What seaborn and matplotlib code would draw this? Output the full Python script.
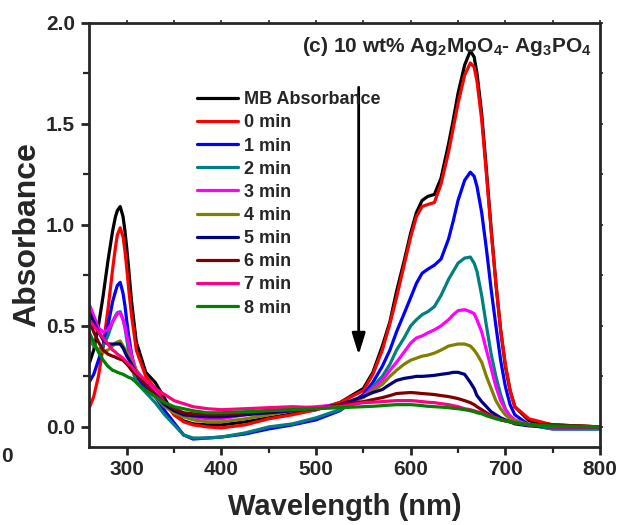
import numpy as np
import pandas as pd
import seaborn as sns
import matplotlib
matplotlib.use("Agg")
import matplotlib.pyplot as plt

# ---------------- data ----------------
wavelength = [260, 265, 270, 275, 280, 285, 288, 290, 293, 296,
              298, 300, 302, 305, 310, 320, 330, 340, 350, 360,
              370, 385, 400, 425, 450, 475, 500, 525, 550, 560,
              570, 578, 585, 593, 600, 606, 612, 618, 625, 632,
              640, 645, 650, 657, 663, 667, 670, 675, 680, 685,
              690, 695, 700, 705, 710, 725, 750, 800]

mb = [0.31, 0.38, 0.50, 0.65, 0.82, 0.97, 1.04, 1.07, 1.09, 1.04,
      0.97, 0.88, 0.78, 0.62, 0.42, 0.27, 0.22, 0.14, 0.06, 0.03,
      0.015, 0.01, 0.01, 0.025, 0.045, 0.065, 0.085, 0.12, 0.19, 0.27,
      0.40, 0.52, 0.67, 0.82, 0.96, 1.06, 1.12, 1.14, 1.15, 1.23,
      1.40, 1.52, 1.65, 1.79, 1.86, 1.83, 1.75, 1.55, 1.27, 0.98,
      0.71, 0.48, 0.30, 0.18, 0.10, 0.03, 0.01, 0.0]

t0 = [0.09, 0.15, 0.25, 0.40, 0.58, 0.78, 0.89, 0.95, 0.985, 0.94,
      0.87, 0.78, 0.68, 0.55, 0.38, 0.25, 0.19, 0.12, 0.06, 0.025,
      0.01, 0.0, -0.005, 0.01, 0.04, 0.06, 0.085, 0.12, 0.18, 0.26,
      0.38, 0.51, 0.64, 0.80, 0.94, 1.04, 1.09, 1.10, 1.11, 1.20,
      1.36, 1.48, 1.60, 1.74, 1.80, 1.78, 1.71, 1.52, 1.25, 0.97,
      0.71, 0.48, 0.31, 0.18, 0.10, 0.04, 0.01, 0.0]

t1 = [0.22, 0.26, 0.33, 0.40, 0.50, 0.62, 0.67, 0.70, 0.715, 0.66,
      0.60, 0.52, 0.45, 0.36, 0.25, 0.19, 0.15, 0.08, 0.02, -0.04,
      -0.06, -0.055, -0.05, -0.035, -0.01, 0.01, 0.035, 0.08, 0.16, 0.22,
      0.30, 0.38, 0.47, 0.56, 0.64, 0.71, 0.76, 0.78, 0.80, 0.83,
      0.93, 1.02, 1.12, 1.22, 1.26, 1.24, 1.19, 1.06, 0.88, 0.68,
      0.50, 0.33, 0.20, 0.11, 0.06, 0.01, -0.01, -0.01]

t2 = [0.44, 0.40, 0.38, 0.40, 0.45, 0.52, 0.55, 0.565, 0.57, 0.53,
      0.49, 0.43, 0.37, 0.30, 0.22, 0.17, 0.12, 0.06, 0.01, -0.04,
      -0.055, -0.055, -0.05, -0.03, 0.0, 0.015, 0.045, 0.085, 0.15, 0.20,
      0.25, 0.31, 0.38, 0.44, 0.50, 0.53, 0.555, 0.57, 0.595, 0.65,
      0.73, 0.77, 0.81, 0.835, 0.84, 0.81, 0.77, 0.65, 0.50, 0.36,
      0.25, 0.16, 0.09, 0.05, 0.03, 0.01, -0.01, -0.01]

t3 = [0.61, 0.55, 0.49, 0.47, 0.48, 0.52, 0.545, 0.56, 0.565, 0.53,
      0.50, 0.45, 0.41, 0.35, 0.28, 0.22, 0.17, 0.12, 0.08, 0.06,
      0.05, 0.04, 0.04, 0.06, 0.08, 0.09, 0.10, 0.11, 0.15, 0.19,
      0.23, 0.28, 0.32, 0.37, 0.415, 0.44, 0.45, 0.465, 0.48, 0.50,
      0.53, 0.555, 0.575, 0.58, 0.57, 0.56, 0.53, 0.47, 0.38, 0.29,
      0.20, 0.13, 0.085, 0.055, 0.035, 0.01, 0.0, 0.0]

t4 = [0.45, 0.41, 0.38, 0.37, 0.38, 0.40, 0.415, 0.42, 0.425, 0.40,
      0.385, 0.37, 0.35, 0.32, 0.28, 0.21, 0.15, 0.10, 0.07, 0.05,
      0.035, 0.025, 0.025, 0.04, 0.06, 0.08, 0.09, 0.11, 0.145, 0.18,
      0.21, 0.25, 0.28, 0.31, 0.33, 0.34, 0.35, 0.355, 0.365, 0.38,
      0.40, 0.405, 0.41, 0.41, 0.40, 0.38, 0.36, 0.32, 0.25, 0.19,
      0.13, 0.09, 0.06, 0.04, 0.03, 0.01, 0.0, 0.0]

t5 = [0.57, 0.52, 0.47, 0.43, 0.41, 0.41, 0.41, 0.41, 0.41, 0.39,
      0.37, 0.35, 0.335, 0.31, 0.27, 0.21, 0.16, 0.11, 0.08, 0.06,
      0.055, 0.05, 0.05, 0.06, 0.07, 0.08, 0.09, 0.11, 0.15, 0.17,
      0.185, 0.21, 0.23, 0.24, 0.245, 0.25, 0.25, 0.252, 0.255, 0.26,
      0.265, 0.27, 0.27, 0.26, 0.22, 0.19, 0.155, 0.125, 0.10, 0.075,
      0.06, 0.045, 0.035, 0.025, 0.015, 0.005, 0.0, 0.0]

t6 = [0.53, 0.47, 0.42, 0.38, 0.36, 0.35, 0.345, 0.34, 0.335, 0.33,
      0.32, 0.31, 0.30, 0.28, 0.26, 0.21, 0.16, 0.12, 0.09, 0.07,
      0.065, 0.06, 0.06, 0.07, 0.08, 0.085, 0.09, 0.11, 0.125, 0.135,
      0.145, 0.155, 0.165, 0.168, 0.17, 0.168, 0.165, 0.163, 0.16, 0.155,
      0.15, 0.145, 0.14, 0.13, 0.12, 0.11, 0.10, 0.085, 0.07, 0.055,
      0.045, 0.035, 0.03, 0.025, 0.02, 0.01, 0.01, 0.0]

t7 = [0.53, 0.50, 0.47, 0.44, 0.41, 0.38, 0.37, 0.36, 0.35, 0.34,
      0.33, 0.32, 0.31, 0.30, 0.27, 0.23, 0.19, 0.16, 0.13, 0.115,
      0.10, 0.09, 0.085, 0.09, 0.095, 0.10, 0.095, 0.10, 0.12, 0.122,
      0.125, 0.128, 0.13, 0.13, 0.13, 0.128, 0.125, 0.122, 0.12, 0.115,
      0.11, 0.105, 0.10, 0.09, 0.085, 0.08, 0.075, 0.07, 0.06, 0.05,
      0.045, 0.035, 0.03, 0.025, 0.02, 0.01, 0.0, 0.0]

t8 = [0.47, 0.42, 0.37, 0.33, 0.30, 0.28, 0.275, 0.27, 0.265, 0.26,
      0.255, 0.25, 0.245, 0.24, 0.22, 0.18, 0.15, 0.12, 0.10, 0.09,
      0.08, 0.07, 0.07, 0.075, 0.08, 0.085, 0.09, 0.095, 0.10, 0.102,
      0.105, 0.108, 0.11, 0.11, 0.11, 0.108, 0.105, 0.102, 0.10, 0.098,
      0.095, 0.092, 0.09, 0.085, 0.08, 0.075, 0.07, 0.065, 0.055, 0.048,
      0.04, 0.035, 0.03, 0.025, 0.02, 0.01, 0.005, 0.0]

labels = ["MB Absorbance", "0 min", "1 min", "2 min", "3 min", "4 min",
          "5 min", "6 min", "7 min", "8 min"]
series = [mb, t0, t1, t2, t3, t4, t5, t6, t7, t8]
colors = ["#000000", "#FF0000", "#0000FF", "#008080", "#FF00FF",
          "#808000", "#000080", "#800000", "#FF0080", "#008000"]

x_ticks = [300, 400, 500, 600, 700, 800]
y_ticks = [0.0, 0.5, 1.0, 1.5, 2.0]

# ---------------- build table ----------------
frames = []
for lab, vals in zip(labels, series):
    frames.append(pd.DataFrame({"Wavelength": wavelength, "Absorbance": vals, "Sample": lab}))
df = pd.concat(frames, ignore_index=True)

# ---------------- style ----------------
sns.set_style("ticks")
plt.rcParams["font.family"] = ["Liberation Sans", "DejaVu Sans"]
plt.rcParams["font.weight"] = "bold"
plt.rcParams["mathtext.fontset"] = "custom"
plt.rcParams["mathtext.rm"] = "Liberation Sans:bold"
plt.rcParams["mathtext.bf"] = "Liberation Sans:bold"
plt.rcParams["mathtext.it"] = "Liberation Sans:bold"

fig = plt.figure(figsize=(6.24, 5.25), dpi=100)
ax = fig.add_axes([0.1426, 0.1495, 0.8189, 0.8075])

sns.lineplot(data=df, x="Wavelength", y="Absorbance", hue="Sample",
             hue_order=labels, palette=colors, sort=False, estimator=None,
             linewidth=2.3, ax=ax)
for ln in ax.get_lines():
    ln.set_solid_joinstyle("round")

ax.set_xlim(260, 800)
ax.set_ylim(-0.097, 2.0)
ax.set_xticks(x_ticks)
ax.set_xticklabels([str(v) for v in x_ticks])
ax.set_yticks(y_ticks)
ax.set_yticklabels([f"{v:.1f}" for v in y_ticks])
ax.xaxis.set_minor_locator(matplotlib.ticker.MultipleLocator(50))
ax.yaxis.set_minor_locator(matplotlib.ticker.MultipleLocator(0.25))

for s in ax.spines.values():
    s.set_linewidth(2.0)
    s.set_visible(True)

ax.tick_params(axis="both", which="major", direction="out", length=6, width=2,
               labelsize=15, pad=4, top=False, right=False)
ax.tick_params(axis="both", which="minor", direction="out", length=4, width=1.6,
               top=False, right=False)
for lab in ax.get_xticklabels() + ax.get_yticklabels():
    lab.set_fontweight("bold")

# small ticks on top and right spines
sec_x = ax.secondary_xaxis("top")
sec_x.set_xticks(np.arange(300, 801, 50))
sec_x.tick_params(direction="out", length=2.5, width=1.2, labeltop=False)
sec_x.spines["top"].set_visible(False)
sec_y = ax.secondary_yaxis("right")
sec_y.set_yticks(np.arange(0, 2.01, 0.25))
sec_y.tick_params(direction="out", length=2.5, width=1.2, labelright=False)
sec_y.spines["right"].set_visible(False)

ax.set_xlabel("Wavelength (nm)", fontsize=21, fontweight="bold", labelpad=10)
ax.set_ylabel("Absorbance", fontsize=23, fontweight="bold", labelpad=3)

# legend
handles, labs = ax.get_legend_handles_labels()
leg = ax.legend(handles, labs, loc="upper left", bbox_to_anchor=(0.211, 0.838),
                frameon=False, fontsize=13, handlelength=2.3, handletextpad=0.3,
                labelspacing=0.34, borderpad=0, borderaxespad=0)
for t in leg.get_texts():
    t.set_fontweight("bold")
for h in leg.get_lines():
    h.set_linewidth(2.3)

# arrow
ax.annotate("", xy=(545, 0.356), xytext=(545, 1.68),
            arrowprops=dict(arrowstyle="-|>,head_length=0.65,head_width=0.2",
                            lw=2, color="black", mutation_scale=20,
                            shrinkA=0, shrinkB=0))

# title
ax.text(0.984, 0.93, r"(c) 10 wt% Ag$_{2}$MoO$_{4}$- Ag$_{3}$PO$_{4}$",
        transform=ax.transAxes, ha="right", va="baseline",
        fontsize=15, fontweight="bold")

# stray label fragment at the left edge
fig.text(1 / 624, 1 - 457 / 525, "0", ha="left", va="center",
         fontsize=15, fontweight="bold")

fig.savefig("out.png", dpi=100)
